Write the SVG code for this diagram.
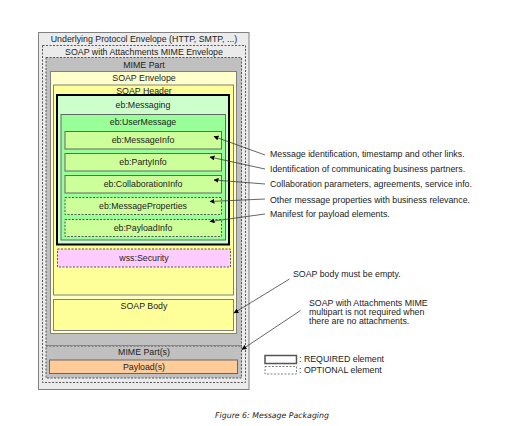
<svg xmlns="http://www.w3.org/2000/svg" width="525" height="426" viewBox="0 0 525 426">
<defs>
<marker id="arr" viewBox="0 0 10 10" refX="9" refY="5" markerWidth="5" markerHeight="5" orient="auto" markerUnits="userSpaceOnUse">
<path d="M0,0 L10,5 L0,10 z" fill="#000"/>
</marker>
<style>
text{font-family:"Liberation Sans",Arial,sans-serif;font-size:8.8px;fill:#222;}
.c{text-anchor:middle;}
.solid{stroke:#808080;stroke-width:1;}
.dash{stroke:#555;stroke-width:1;stroke-dasharray:2,1.5;}
.req{stroke:#666;stroke-width:1;}
.con{stroke:#333;stroke-width:0.75;fill:none;marker-end:url(#arr);}
.cap{font-family:"DejaVu Sans",sans-serif;font-style:italic;font-size:7.8px;}
</style>
</defs>
<rect width="525" height="426" fill="#fff"/>
<g id="protocol">
<rect x="38.5" y="32.5" width="210.5" height="357" fill="#ebebeb" class="solid"/>
<text x="144" y="42" class="c">Underlying Protocol Envelope (HTTP, SMTP, ...)</text>
</g>
<g id="swa">
<rect x="42.5" y="45.5" width="203" height="337" fill="#ebebeb" class="dash"/>
<text x="144" y="54.5" class="c">SOAP with Attachments MIME Envelope</text>
</g>
<g id="mimepart">
<rect x="46" y="57.5" width="195.5" height="288.5" fill="#c0c0c0" class="dash"/>
<text x="144" y="67.5" class="c">MIME Part</text>
</g>
<g id="soapenv">
<rect x="50.5" y="71.5" width="186" height="262" fill="#ffffcc" class="solid"/>
<text x="144" y="80.5" class="c">SOAP Envelope</text>
</g>
<g id="soapheader">
<rect x="53.5" y="85" width="180" height="210" fill="#ffff99" class="solid"/>
<text x="144" y="94" class="c">SOAP Header</text>
</g>
<g id="messaging">
<rect x="57" y="95" width="172" height="149.5" fill="#ccffcc" stroke="#000" stroke-width="2"/>
<text x="143" y="107.5" class="c">eb:Messaging</text>
</g>
<g id="usermessage">
<rect x="61" y="114.5" width="164.5" height="125.5" fill="#99ff99" class="req"/>
<text x="143" y="125" class="c">eb:UserMessage</text>
</g>
<g id="messageinfo">
<rect x="65" y="131.5" width="156.5" height="17.5" fill="#ccff99" class="req"/>
<text x="143" y="143" class="c">eb:MessageInfo</text>
</g>
<g id="partyinfo">
<rect x="65" y="153.5" width="156.5" height="17.5" fill="#ccff99" class="req"/>
<text x="143" y="165" class="c">eb:PartyInfo</text>
</g>
<g id="collabinfo">
<rect x="65" y="175.5" width="156.5" height="17.5" fill="#ccff99" class="req"/>
<text x="143" y="187" class="c">eb:CollaborationInfo</text>
</g>
<g id="msgprops">
<rect x="65" y="197.5" width="156.5" height="17" fill="#ccff99" class="dash"/>
<text x="143" y="209" class="c">eb:MessageProperties</text>
</g>
<g id="payloadinfo">
<rect x="65" y="219.5" width="156.5" height="17" fill="#ccff99" class="dash"/>
<text x="143" y="230.5" class="c">eb:PayloadInfo</text>
</g>
<g id="security">
<rect x="57.5" y="249" width="173" height="18" fill="#ffccff" class="dash"/>
<text x="144" y="261" class="c">wss:Security</text>
</g>
<g id="soapbody">
<rect x="53.5" y="299.5" width="180" height="31" fill="#ffff99" class="solid"/>
<text x="144" y="309" class="c">SOAP Body</text>
</g>
<g id="mimeparts">
<rect x="46" y="346" width="195.5" height="32" fill="#c0c0c0" class="dash"/>
<text x="144" y="355" class="c">MIME Part(s)</text>
</g>
<g id="payloads">
<rect x="49.5" y="360" width="188" height="13.5" fill="#ffcc99" class="req"/>
<text x="144" y="370" class="c">Payload(s)</text>
</g>
<g id="connectors">
<line x1="265" y1="155" x2="214" y2="136.5" class="con"/>
<line x1="265" y1="169" x2="210" y2="157" class="con"/>
<line x1="265" y1="184" x2="214" y2="180" class="con"/>
<line x1="265" y1="199" x2="210" y2="201.5" class="con"/>
<line x1="265" y1="214" x2="210" y2="221.5" class="con"/>
<line x1="289.5" y1="279" x2="234" y2="313" class="con"/>
<line x1="300.5" y1="310.5" x2="242" y2="349.5" class="con"/>
</g>
<g id="notes">
<text x="270" y="157">Message identification, timestamp and other links.</text>
<text x="270" y="172">Identification of communicating business partners.</text>
<text x="270" y="187">Collaboration parameters, agreements, service info.</text>
<text x="270" y="202.5">Other message properties with business relevance.</text>
<text x="270" y="217">Manifest for payload elements.</text>
<text x="293" y="277">SOAP body must be empty.</text>
<text x="309" y="305.5">SOAP with Attachments MIME</text>
<text x="309" y="315">multipart is not required when</text>
<text x="309" y="324">there are no attachments.</text>
</g>
<g id="legend">
<rect x="265" y="355.5" width="31.5" height="8" fill="#fff" stroke="#555" stroke-width="1.5"/>
<text x="299" y="362">: REQUIRED element</text>
<rect x="265" y="366.5" width="31.5" height="7.5" fill="#fff" stroke="#555" stroke-width="0.75" stroke-dasharray="2,1.5"/>
<text x="299" y="373">: OPTIONAL element</text>
</g>
<text x="272" y="418" class="cap c">Figure 6: Message Packaging</text>
</svg>
